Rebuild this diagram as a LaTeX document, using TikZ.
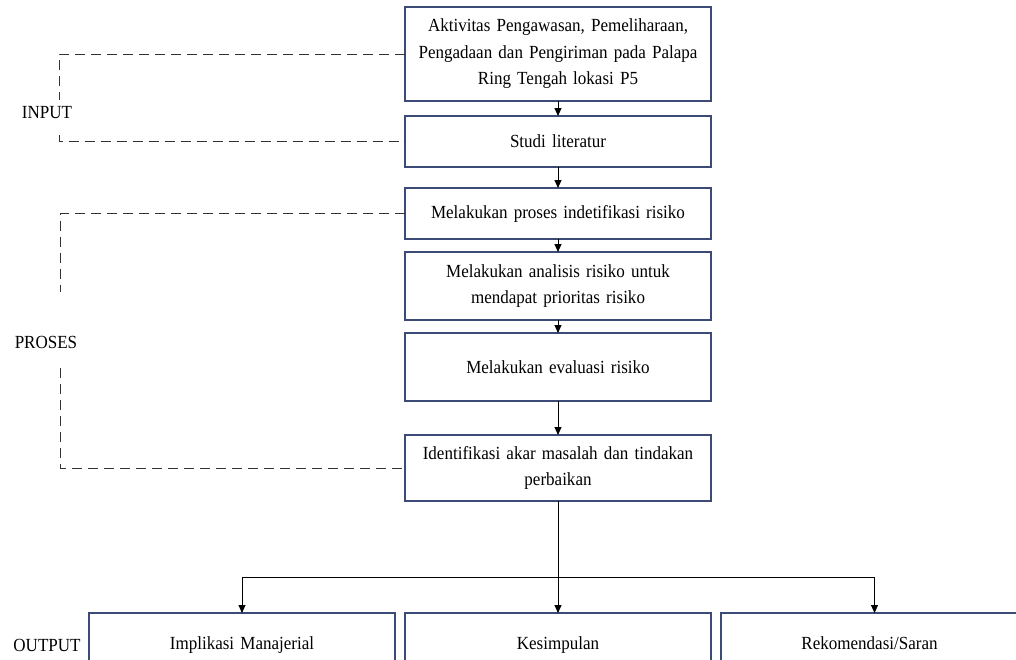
\documentclass[tikz,border=0pt]{standalone}
\usepackage{fontspec}
\setmainfont[FakeStretch=0.92, WordSpace=0.85]{Liberation Serif}
\usetikzlibrary{positioning, arrows.meta}
\definecolor{boxline}{HTML}{3C4A78}
\tikzstyle{process} = [rectangle, minimum width=306pt, text width=294pt, align=center, draw=boxline, line width=1.1pt, outer sep=0pt, font=\fontsize{18.5}{26.5}\selectfont]
\tikzstyle{outbox} = [process, minimum height=64pt, text height=13pt, text depth=4pt]
\tikzstyle{arrow} = [line width=0.9pt, -{Triangle[length=8pt,width=7pt]}]
\tikzstyle{dashline} = [line width=0.9pt, draw=black!80, dash pattern=on 10pt off 6pt]
\tikzstyle{sidetext} = [font=\fontsize{18.5}{20}\selectfont, inner sep=0pt]

\begin{document}
\begin{tikzpicture}[x=1pt, y=1pt]
    \useasboundingbox (0,0) rectangle (1016,-659);
    \clip (0,0) rectangle (1016,-659);
    \node (Aktivitas) [process, minimum height=94pt] at (558,-54) {Aktivitas Pengawasan, Pemeliharaan,\\ Pengadaan dan Pengiriman pada Palapa\\ Ring Tengah lokasi P5};
    \node (Studi) [process, minimum height=51pt, below=15pt of Aktivitas] {Studi literatur};
    \node (Identifikasi) [process, minimum height=51pt, below=21pt of Studi] {Melakukan proses indetifikasi risiko};
    \node (Analisis) [process, minimum height=68pt, below=13pt of Identifikasi] {Melakukan analisis risiko untuk\\ mendapat prioritas risiko};
    \node (Evaluasi) [process, minimum height=68pt, below=13pt of Analisis] {Melakukan evaluasi risiko};
    \node (AkarMasalah) [process, minimum height=66pt, below=34pt of Evaluasi] {Identifikasi akar masalah dan tindakan\\ perbaikan};
    \node (Kesimpulan) [outbox, below=112pt of AkarMasalah] {Kesimpulan};
    \node (Implikasi) [outbox, left=10pt of Kesimpulan] {Implikasi Manajerial};
    \node (Rekomendasi) [outbox, minimum width=297pt, text width=285pt, right=10pt of Kesimpulan] {Rekomendasi/Saran};

    \draw [arrow] (Aktivitas) -- (Studi);
    \draw [arrow] (Studi) -- (Identifikasi);
    \draw [arrow] (Identifikasi) -- (Analisis);
    \draw [arrow] (Analisis) -- (Evaluasi);
    \draw [arrow] (Evaluasi) -- (AkarMasalah);
    \draw [arrow] (AkarMasalah) -- (Kesimpulan);
    \draw [arrow] (AkarMasalah.south) |- ([yshift=36pt]Implikasi.north) -- (Implikasi.north);
    \draw [arrow] (AkarMasalah.south) |- ([xshift=5pt,yshift=36pt]Rekomendasi.north) -- ([xshift=5pt]Rekomendasi.north);

    % side labels
    \node (Input) [sidetext] at (47,-113) {INPUT};
    \node (Proses) [sidetext] at (46,-342) {PROSES};
    \node (Output) [sidetext] at (47,-645) {OUTPUT};
    \coordinate (InputAtas) at (59,-100);
    \coordinate (InputBawah) at (59,-135);
    \coordinate (ProsesAtas) at (60,-292);
    \coordinate (ProsesBawah) at (60,-368);
    \draw [dashline] (Aktivitas.west) -| (InputAtas);
    \draw [dashline] (InputBawah) |- (Studi.west);
    \draw [dashline] (Identifikasi.west) -| (ProsesAtas);
    \draw [dashline] (ProsesBawah) |- (AkarMasalah.west);
\end{tikzpicture}
\end{document}
